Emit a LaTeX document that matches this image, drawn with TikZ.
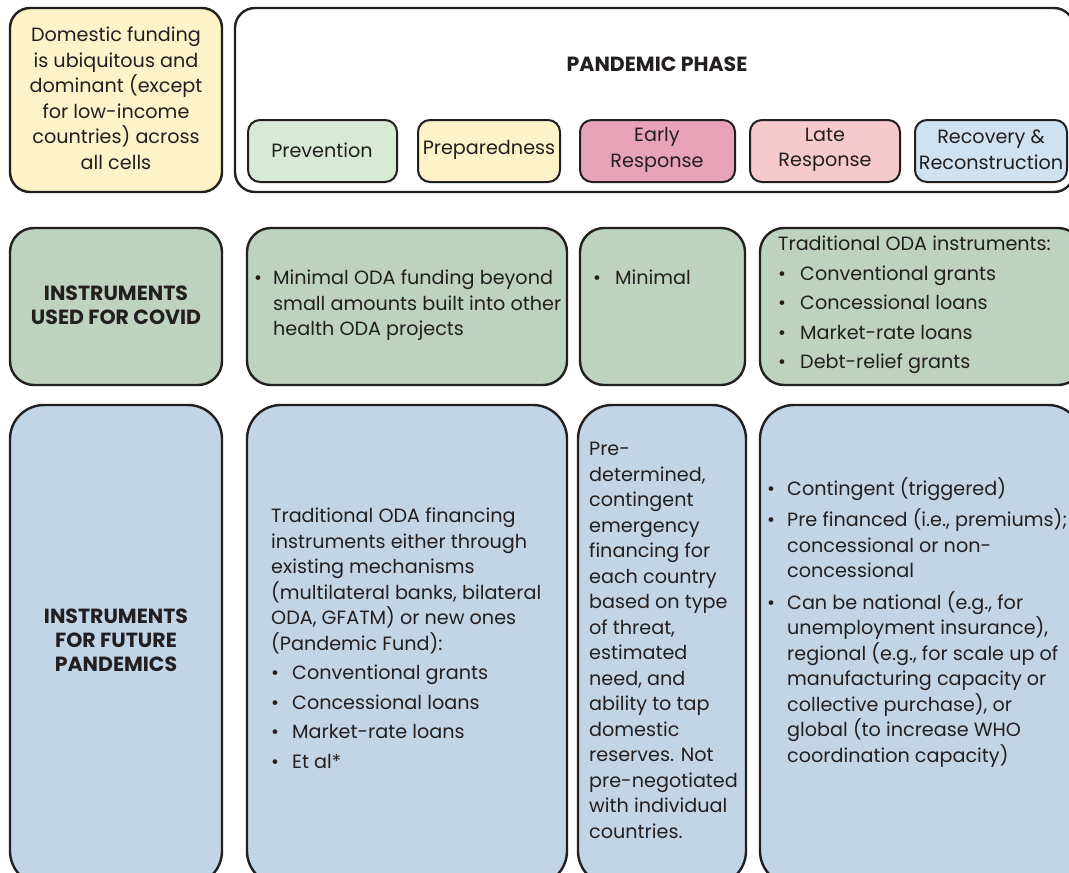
\documentclass[tikz,border=0pt]{standalone}
\usepackage{fontspec}
\setmainfont{Poppins}
\definecolor{ink}{HTML}{231F20}
\definecolor{cream}{HTML}{FEF2C9}
\definecolor{prevgreen}{HTML}{D8E9D5}
\definecolor{earlypink}{HTML}{E9A3B9}
\definecolor{latepink}{HTML}{F6C9CC}
\definecolor{recblue}{HTML}{CFE2F2}
\definecolor{sage}{HTML}{BDD2BF}
\definecolor{futblue}{HTML}{C2D5E6}
\newcommand{\dotitem}[1]{\makebox[#1][l]{\textbullet}}

\begin{document}
\begin{tikzpicture}[x=1pt,y=-1pt,
    cell/.style={draw=ink,line width=2.4pt,rounded corners=24pt},
    tallcell/.style={cell,rounded corners=34pt},
    phasebox/.style={draw=ink,line width=2pt,rounded corners=12pt},
    txt/.style={inner sep=0pt,text=ink,font=\fontsize{19.2}{25.5}\selectfont},
    head/.style={txt,font=\fontsize{20.5}{24}\selectfont\bfseries}]
    \useasboundingbox (0,0) rectangle (1069,873);
    \fill[white] (0,0) rectangle (1069,873);
    \clip (0,0) rectangle (1069,873);

    \draw[cell,fill=cream,rounded corners=20pt] (10,8) rectangle (222,192);
    \draw[cell,fill=white,rounded corners=20pt] (235,8) rectangle (1074,192);
    \node[txt,align=center] (domestic) at (116,98)
        {Domestic funding\\is ubiquitous and\\dominant (except\\for low-income\\countries) across\\all cells};
    \node[head] (phase) at (657,64) {PANDEMIC PHASE};

    \draw[phasebox,fill=prevgreen] (248,120) rectangle (397,182);
    \draw[phasebox,fill=cream] (418,120) rectangle (560,182);
    \draw[phasebox,fill=earlypink] (580,120) rectangle (735,182);
    \draw[phasebox,fill=latepink] (750,120) rectangle (900,182);
    \draw[phasebox,fill=recblue] (915,120) rectangle (1067,182);
    \node[txt] (prevention) at (322,150) {Prevention};
    \node[txt] (preparedness) at (489,150) {Preparedness};
    \node[txt,align=center] (early) at (657,150) {Early\\Response};
    \node[txt,align=center] (late) at (825,150) {Late\\Response};
    \node[txt,align=center] (recovery) at (991,150) {Recovery \&\\Reconstruction};

    \draw[cell,fill=sage] (10,228) rectangle (222,385);
    \draw[cell,fill=sage] (247,228) rectangle (567,385);
    \draw[cell,fill=sage] (580,228) rectangle (745,385);
    \draw[cell,fill=sage] (760,228) rectangle (1082,385);
    \node[head,align=center] (covid) at (116,305) {INSTRUMENTS\\USED FOR COVID};
    \node[txt,align=left,anchor=north west] (covidprep) at (254,270)
        {\dotitem{19pt}Minimal ODA funding beyond\\
         \hspace*{19pt}small amounts built into other\\
         \hspace*{19pt}health ODA projects};
    \node[txt,align=left,anchor=north west] (covidearly) at (593,270)
        {\dotitem{22pt}Minimal};
    \node[txt,align=left,anchor=north west] (covidlate) at (778,236)
        {Traditional ODA instruments:\\[4pt]
         \dotitem{22pt}Conventional grants\\[4pt]
         \dotitem{22pt}Concessional loans\\[4pt]
         \dotitem{22pt}Market-rate loans\\[4pt]
         \dotitem{22pt}Debt-relief grants};

    \draw[tallcell,fill=futblue] (10,405) rectangle (222,885);
    \draw[tallcell,fill=futblue] (247,405) rectangle (567,885);
    \draw[tallcell,fill=futblue] (578,405) rectangle (746,885);
    \draw[tallcell,fill=futblue] (760,405) rectangle (1082,885);
    \node[head,align=center] (future) at (116,640) {INSTRUMENTS\\FOR FUTURE\\PANDEMICS};
    \node[txt,align=left,anchor=north west] (futprep) at (271,508)
        {Traditional ODA financing\\
         instruments either through\\
         existing mechanisms\\
         (multilateral banks, bilateral\\
         ODA, GFATM) or new ones\\
         (Pandemic Fund):\\[4pt]
         \dotitem{21pt}Conventional grants\\[4pt]
         \dotitem{21pt}Concessional loans\\[4pt]
         \dotitem{21pt}Market-rate loans\\[4pt]
         \dotitem{21pt}Et al*};
    \node[txt,align=left,anchor=north west] (futearly) at (589,442)
        {Pre-\\determined,\\contingent\\emergency\\financing for\\each country\\based on type\\of threat,\\estimated\\need, and\\ability to tap\\domestic\\reserves. Not\\pre-negotiated\\with individual\\countries.};
    \node[txt,align=left,anchor=north west] (futlate) at (767,477)
        {\dotitem{20pt}Contingent (triggered)\\[6pt]
         \dotitem{20pt}Pre financed (i.e., premiums);\\
         \hspace*{20pt}concessional or non-\\
         \hspace*{20pt}concessional\\[6pt]
         \dotitem{20pt}Can be national (e.g., for\\
         \hspace*{20pt}unemployment insurance),\\
         \hspace*{20pt}regional (e.g., for scale up of\\
         \hspace*{20pt}manufacturing capacity or\\
         \hspace*{20pt}collective purchase), or\\
         \hspace*{20pt}global (to increase WHO\\
         \hspace*{20pt}coordination capacity)};
\end{tikzpicture}
\end{document}
